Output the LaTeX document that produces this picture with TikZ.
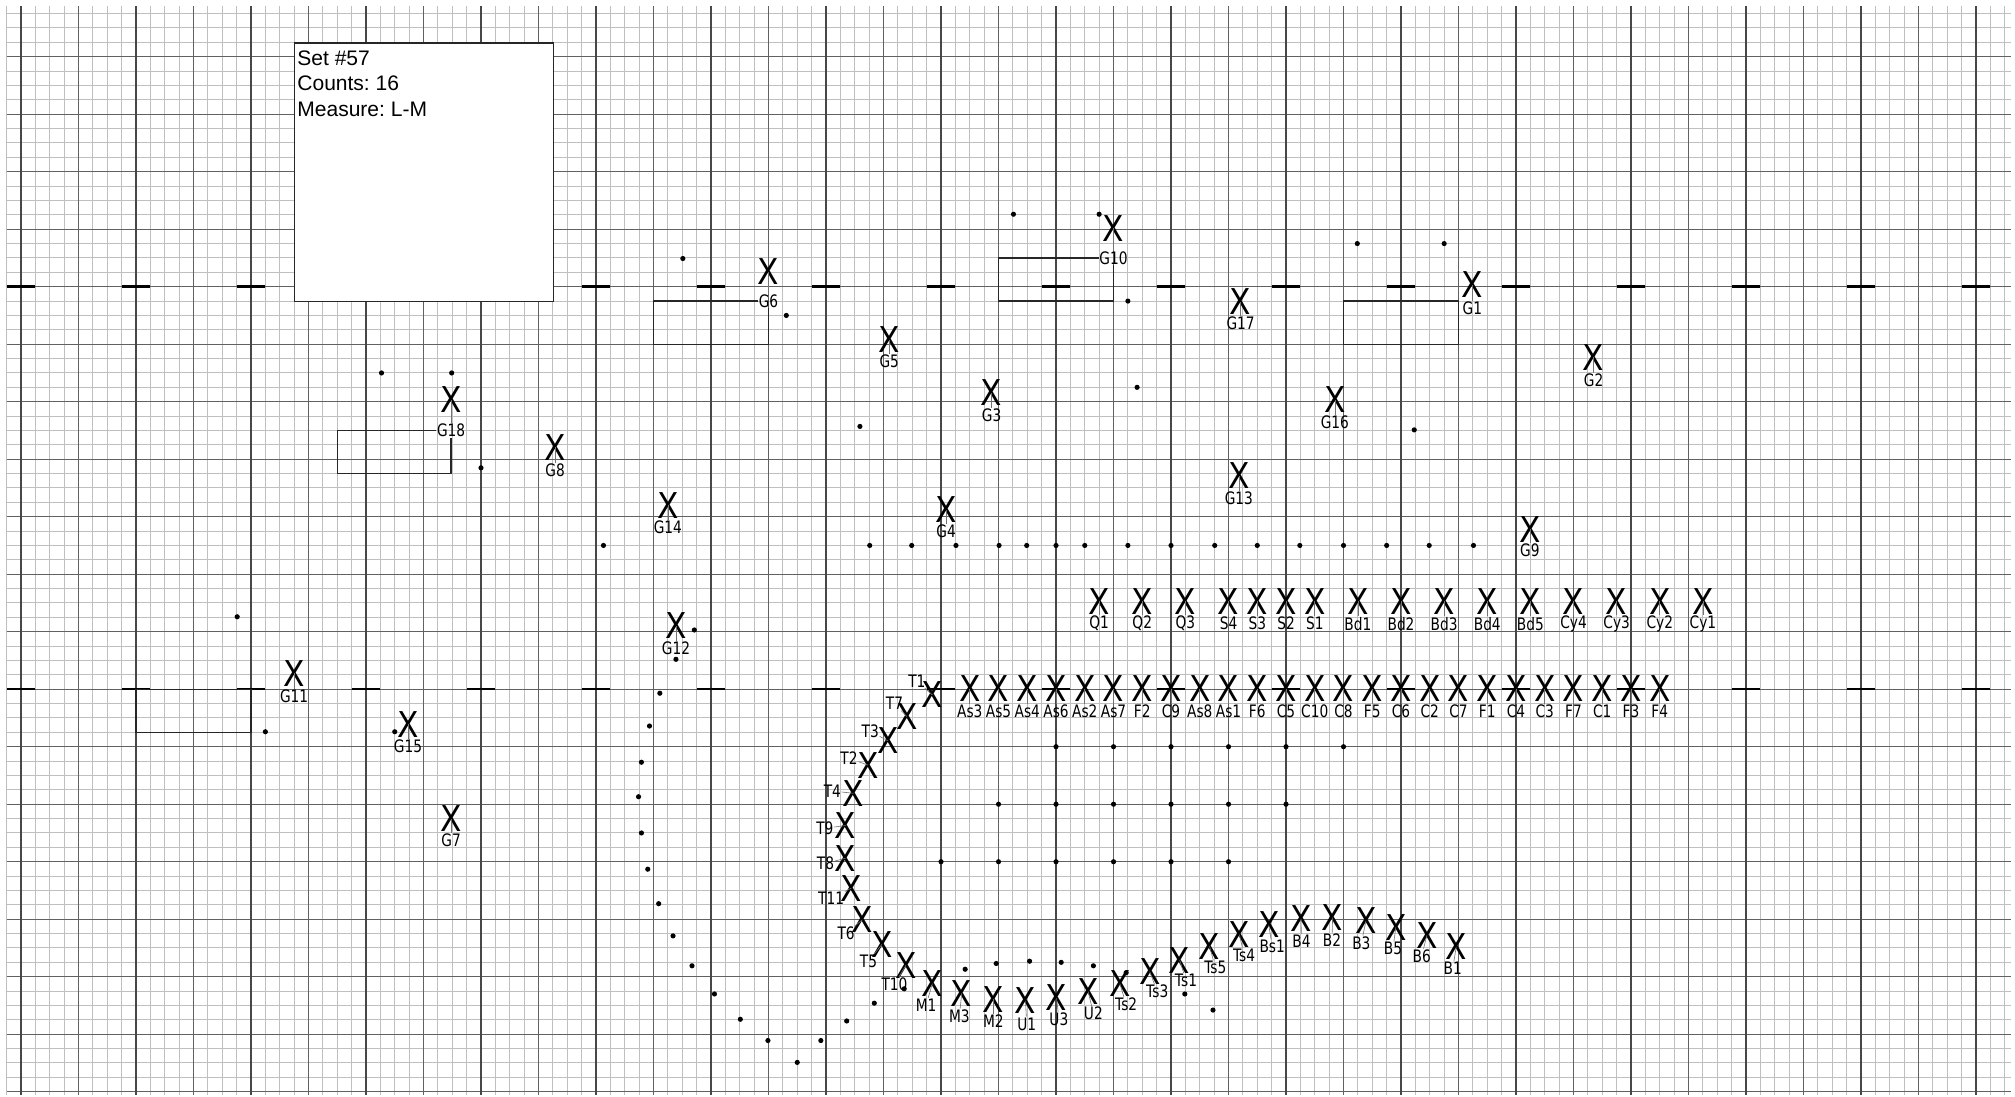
\documentclass[tikz,border=0pt]{standalone}
\usepackage{fontspec}
\setmainfont{Liberation Sans}
\newfontfamily\markfont[FakeStretch=0.88]{DejaVu Sans}
\newfontfamily\tagfont[FakeStretch=0.8]{DejaVu Sans}
\usetikzlibrary{positioning}

\begin{document}
\begin{tikzpicture}[x=1cm, y=-1cm,
  minor/.style={draw=black!25, line width=0.5pt},
  major/.style={draw=black!62, line width=0.6pt},
  heavy/.style={draw=black!72, line width=0.9pt},
  tickmark/.style={line width=1.2pt},
  blk/.style={draw=black!85, line width=0.6pt},
  mk/.style={font=\markfont\fontsize{17.6}{18}\selectfont, inner sep=0pt},
  lb/.style={font=\tagfont\fontsize{8.5}{9}\selectfont, inner sep=0.2pt},
  ld/.style={draw=black!55, line width=0.3pt}]
  \useasboundingbox (-0.365,-0.986) rectangle (34.678,18.075);
  % paper grid
  \foreach \i in {-1,...,138} \draw[minor] (\i/4,-0.88) -- (\i/4,18.05);
  \foreach \j in {-3,...,72} \draw[minor] (-0.25,\j/4) -- (34.6,\j/4);
  \foreach \j in {0,...,18} \draw[major] (-0.25,\j) -- (34.6,\j);
  \foreach \i in {1,3,...,33} \draw[major] (\i,-0.88) -- (\i,18.05);
  \foreach \i in {0,2,...,34} {
    \draw[heavy] (\i,-0.88) -- (\i,18.05);
    \draw[tickmark] (\i-0.25,4) -- (\i+0.25,4);
    \draw[tickmark] (\i-0.25,11) -- (\i+0.25,11);
  }
  % info box
  \node[draw=black!85, line width=0.6pt, fill=white, minimum width=4.5cm, minimum height=4.5cm, anchor=north west] (setbox) at (4.75,-0.25) {};
  \node[anchor=north west, align=left, inner sep=0pt, font=\fontsize{10.4}{12.6}\selectfont\frenchspacing] (info) at (4.80,-0.11) {Set \#57\\Counts: 16\\Measure: L-M};
  % dots
  \foreach \x/\y in {3.76/9.74,4.25/11.74,6.5/11.74,6.27/5.5,7.49/5.5,8.0/7.15,11.51/3.51,13.31/4.5,14.59/6.43,17.26/2.74,18.75/2.74,19.25/4.25,19.41/5.75,23.24/3.25,24.75/3.25,24.23/6.49,11.71/9.97,11.39/10.48}
    \fill (\x,\y) circle (0.045);
  \foreach \x in {10.13,14.76,15.49,16.26,17.01,17.49,18.0,18.5,19.25,20.0,20.76,21.5,22.24,23.0,23.75,24.49,25.26}
    \fill (\x,8.5) circle (0.045);
  \foreach \x/\y in {11.11/11.07,10.93/11.64,10.79/12.27,10.74/12.87,10.79/13.50,10.90/14.13,11.09/14.73,11.34/15.29,11.67/15.81,12.06/16.30,12.51/16.74,12.99/17.11,13.50/17.49,13.91/17.11,14.36/16.77,14.84/16.46,15.36/16.21}
    \fill (\x,\y) circle (0.045);
  \foreach \x/\y in {16.42/15.87,16.96/15.77,17.54/15.73,18.09/15.75,18.65/15.81,19.22/15.93,20.24/16.30,20.73/16.58}
    \fill (\x,\y) circle (0.045);
  \foreach \x in {18,...,23} \fill (\x,12) circle (0.045);
  \foreach \x in {17,...,22} \fill (\x,13) circle (0.045);
  \foreach \x in {16,...,21} \fill (\x,14) circle (0.045);
  % upper row
  \foreach \n/\x in {Q1/18.75,Q2/19.5,Q3/20.25,S4/21,S3/21.5,S2/22,S1/22.5,Bd1/23.25,Bd2/24,Bd3/24.75,Bd4/25.5,Bd5/26.25,Cy4/27,Cy3/27.75,Cy2/28.5,Cy1/29.25}{
    \node[mk] (\n) at (\x,9.47) {X};
    \node[lb] (\n-l) at (\x,9.86) {\n};
    \draw[ld] (\n.center) -- (\n-l);
  }
  % lower row
  \foreach \n [count=\k from 0] in {As3,As5,As4,As6,As2,As7,F2,C9,As8,As1,F6,C5,C10,C8,F5,C6,C2,C7,F1,C4,C3,F7,C1,F3,F4}{
    \node[mk] (\n) at (16.5+\k/2,10.99) {X};
    \node[lb] (\n-l) at (16.5+\k/2,11.38) {\n};
    \draw[ld] (\n.center) -- (\n-l);
  }
  % curve
  \foreach \n/\x/\y/\u/\v in {T1/15.85/11.10/15.58/10.86, T7/15.41/11.48/15.19/11.25, T3/15.08/11.90/14.77/11.73,
      T2/14.73/12.32/14.40/12.20, T4/14.48/12.81/14.11/12.77, T9/14.34/13.37/13.98/13.42, T8/14.34/13.94/13.99/14.03,
      T11/14.44/14.46/14.09/14.64, T6/14.63/15.01/14.35/15.25, T5/14.97/15.44/14.74/15.73, T10/15.39/15.80/15.19/16.13,
      M1/15.85/16.12/15.74/16.49, M3/16.36/16.29/16.32/16.68, M2/16.91/16.39/16.91/16.78, U1/17.47/16.42/17.49/16.82,
      U3/18.01/16.37/18.05/16.74, U2/18.56/16.26/18.65/16.64, Ts2/19.11/16.12/19.22/16.48, Ts3/19.63/15.91/19.76/16.26,
      Ts1/20.15/15.71/20.26/16.06, Ts5/20.67/15.47/20.77/15.84, Ts4/21.19/15.27/21.27/15.62, Bs1/21.70/15.10/21.76/15.48,
      B4/22.26/14.99/22.27/15.38, B2/22.81/14.97/22.80/15.36, B3/23.39/15.03/23.31/15.41, B5/23.91/15.14/23.86/15.51,
      B6/24.45/15.28/24.36/15.64, B1/24.96/15.48/24.90/15.86}{
    \node[mk] (\n) at (\x,\y) {X};
    \node[lb] (\n-l) at (\u,\v) {\n};
    \draw[ld] (\n.center) -- (\n-l);
  }
  % G marks
  \foreach \n/\x/\y/\v in {G10/19.0/2.98/3.5, G6/13.0/3.74/4.25, G17/21.21/4.26/4.64, G1/25.24/3.97/4.37,
      G5/15.10/4.92/5.29, G2/27.35/5.23/5.62, G3/16.88/5.84/6.23, G16/22.85/5.97/6.36, G18/7.48/5.97/6.5,
      G8/9.29/6.79/7.20, G13/21.18/7.29/7.68, G14/11.25/7.80/8.19, G4/16.09/7.88/8.25, G9/26.24/8.22/8.59,
      G12/11.39/9.90/10.28, G11/4.75/10.72/11.12, G15/6.73/11.61/12.00, G7/7.48/13.25/13.62}{
    \node[mk] (\n) at (\x,\y) {X};
    \node[lb] (\n-l) at (\x,\v) {\n};
    \draw[ld] (\n.center) -- (\n-l);
  }
  % frames
  \draw[blk] (G10-l) -| (17,4.25) -| (G10-l);
  \draw[blk] (G6-l) -| (11,5) -| (G6-l);
  \draw[blk] (G18-l) -| (5.5,7.25) -| (G18-l);
  \draw[blk] (23,4.25) rectangle (25,5);
  \draw[blk] (2,11) rectangle (4,11.75);
\end{tikzpicture}
\end{document}
